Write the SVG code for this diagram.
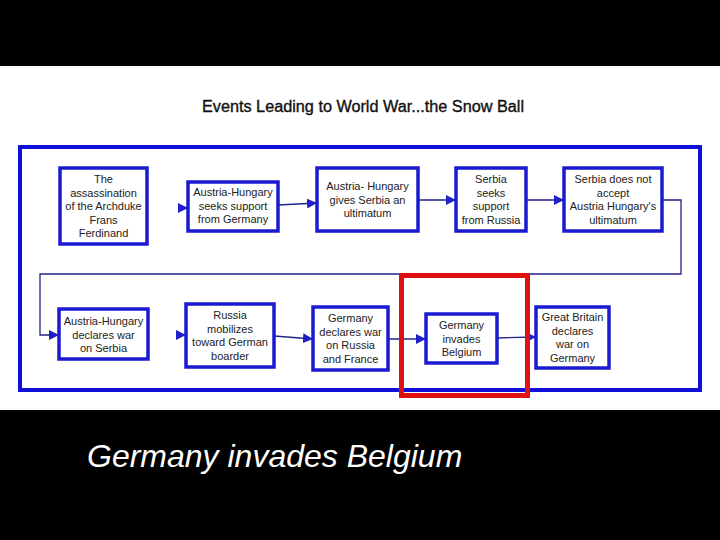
<svg xmlns="http://www.w3.org/2000/svg" width="720" height="540" viewBox="0 0 720 540">
<style>
.box{fill:#fff;stroke:#1a1ad0;stroke-width:3.5}
.t{font-family:"Liberation Sans",Arial,sans-serif;font-size:11px;fill:#222;text-anchor:middle}
.c{fill:none;stroke:#22228a;stroke-width:1.3}
</style>
<defs>
<marker id="a" viewBox="0 0 10 10" refX="10" refY="5" markerWidth="10" markerHeight="10" markerUnits="userSpaceOnUse" orient="auto">
<path d="M0,0 L10,5 L0,10 z" fill="#2020c8"/>
</marker>
</defs>
<rect x="0" y="0" width="720" height="540" fill="#000"/>
<rect x="0" y="66" width="720" height="344" fill="#fff"/>
<text x="363" y="112" font-family="Liberation Sans,Arial,sans-serif" font-size="16" fill="#111" text-anchor="middle" stroke="#111" stroke-width="0.35" textLength="322" lengthAdjust="spacingAndGlyphs">Events Leading to World War...the Snow Ball</text>
<rect x="20" y="147" width="680" height="243" fill="none" stroke="#1010d8" stroke-width="4"/>
<g id="connectors">
<path class="c" d="M178,208 L188,208" marker-end="url(#a)"/>
<path class="c" d="M278,205 L317,203" marker-end="url(#a)"/>
<path class="c" d="M418,200 L456,200" marker-end="url(#a)"/>
<path class="c" d="M526,200 L564,200" marker-end="url(#a)"/>
<path class="c" d="M662,200 L681,200 L681,274 L40,274 L40,335 L59,335" marker-end="url(#a)"/>
<path class="c" d="M176,335 L186,335" marker-end="url(#a)"/>
<path class="c" d="M274,336 L313,339" marker-end="url(#a)"/>
<path class="c" d="M388,339 L426,339" marker-end="url(#a)"/>
<path class="c" d="M497,338 L536,337" marker-end="url(#a)"/>
</g>
<g id="n1"><rect class="box" x="60" y="168" width="87" height="76"/>
<text class="t"><tspan x="103.5" y="183">The</tspan><tspan x="103.5" y="196.5">assassination</tspan><tspan x="103.5" y="210">of the Archduke</tspan><tspan x="103.5" y="223.5">Frans</tspan><tspan x="103.5" y="237">Ferdinand</tspan></text></g>
<g id="n2"><rect class="box" x="188" y="182" width="90" height="49"/>
<text class="t"><tspan x="233" y="196">Austria-Hungary</tspan><tspan x="233" y="209.5">seeks support</tspan><tspan x="233" y="223">from Germany</tspan></text></g>
<g id="n3"><rect class="box" x="317" y="168" width="101" height="63"/>
<text class="t"><tspan x="367.5" y="190">Austria- Hungary</tspan><tspan x="367.5" y="203.5">gives Serbia an</tspan><tspan x="367.5" y="217">ultimatum</tspan></text></g>
<g id="n4"><rect class="box" x="456" y="168" width="70" height="63"/>
<text class="t"><tspan x="491" y="183">Serbia</tspan><tspan x="491" y="196.5">seeks</tspan><tspan x="491" y="210">support</tspan><tspan x="491" y="223.5">from Russia</tspan></text></g>
<g id="n5"><rect class="box" x="564" y="168" width="98" height="63"/>
<text class="t"><tspan x="613" y="183">Serbia does not</tspan><tspan x="613" y="196.5">accept</tspan><tspan x="613" y="210">Austria Hungary's</tspan><tspan x="613" y="223.5">ultimatum</tspan></text></g>
<g id="n6"><rect class="box" x="59" y="309" width="89" height="50"/>
<text class="t"><tspan x="103.5" y="325">Austria-Hungary</tspan><tspan x="103.5" y="338.5">declares war</tspan><tspan x="103.5" y="352">on Serbia</tspan></text></g>
<g id="n7"><rect class="box" x="186" y="304" width="88" height="63"/>
<text class="t"><tspan x="230" y="319">Russia</tspan><tspan x="230" y="332.5">mobilizes</tspan><tspan x="230" y="346">toward German</tspan><tspan x="230" y="359.5">boarder</tspan></text></g>
<g id="n8"><rect class="box" x="313" y="307" width="75" height="63"/>
<text class="t"><tspan x="350.5" y="322">Germany</tspan><tspan x="350.5" y="335.5">declares war</tspan><tspan x="350.5" y="349">on Russia</tspan><tspan x="350.5" y="362.5">and France</tspan></text></g>
<g id="n9"><rect class="box" x="426" y="314" width="71" height="49"/>
<text class="t"><tspan x="461.5" y="329">Germany</tspan><tspan x="461.5" y="342.5">invades</tspan><tspan x="461.5" y="356">Belgium</tspan></text></g>
<g id="n10"><rect class="box" x="536" y="307" width="73" height="61"/>
<text class="t"><tspan x="572.5" y="321">Great Britain</tspan><tspan x="572.5" y="334.5">declares</tspan><tspan x="572.5" y="348">war on</tspan><tspan x="572.5" y="361.5">Germany</tspan></text></g>
<rect id="highlight" x="401.5" y="275.5" width="126" height="120" fill="none" stroke="#e01010" stroke-width="5"/>
<text x="87" y="467" font-family="Liberation Sans,Arial,sans-serif" font-size="32" font-style="italic" fill="#fff">Germany invades Belgium</text>
</svg>
